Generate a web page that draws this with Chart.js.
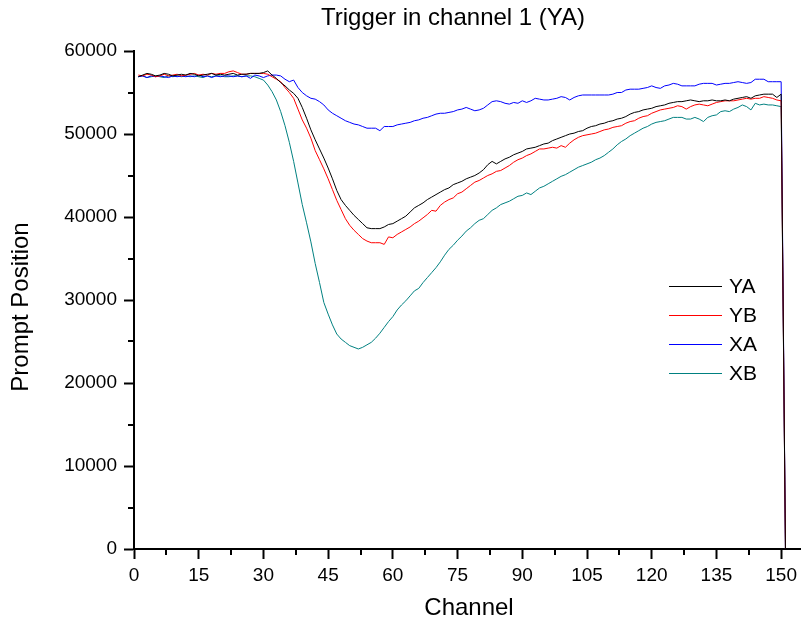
<!DOCTYPE html>
<html>
<head>
<meta charset="utf-8">
<script src="https://cdn.jsdelivr.net/npm/chart.js@4.4.0/dist/chart.umd.min.js"></script>
<style>
  body { margin: 0; background: #fff; }
  #wrap { width: 802px; height: 625px; }
</style>
</head>
<body>
<div id="wrap"><canvas id="chart" width="802" height="625"></canvas></div>
<script>
// --------- DADOS ----------
const channels = [
  1,2,3,4,5,6,7,8,9,10,11,12,13,14,15,16,17,18,19,20,
  21,22,23,24,25,26,27,28,29,30,31,32,33,34,35,36,37,38,39,40,
  41,42,43,44,45,46,47,48,49,50,51,52,53,54,55,56,57,58,59,60,
  61,62,63,64,65,66,67,68,69,70,71,72,73,74,75,76,77,78,79,80,
  81,82,83,84,85,86,87,88,89,90,91,92,93,94,95,96,97,98,99,100,
  101,102,103,104,105,106,107,108,109,110,111,112,113,114,115,116,117,118,119,120,
  121,122,123,124,125,126,127,128,129,130,131,132,133,134,135,136,137,138,139,140,
  141,142,143,144,145,146,147,148,149,150,151
];

const ya = [
  56900,57100,57300,57200,57000,57100,57300,57200,57000,57100,
  57200,57100,57300,57200,57000,57100,57200,57300,57100,57200,
  57100,57200,57300,57100,57200,57200,57300,57300,57300,57400,
  57600,57100,56700,56200,55800,55300,54900,54300,53200,51900,
  50500,49300,48200,47100,45900,44600,43200,42100,41400,40800,
  40200,39700,39200,38700,38600,38600,38600,38800,39100,39200,
  39500,39800,40100,40600,41100,41400,41700,42100,42400,42700,
  43000,43300,43500,43900,44100,44300,44600,44800,45000,45300,
  45700,46300,46700,46400,46700,47000,47200,47500,47700,47900,
  48200,48300,48400,48600,48800,48900,49200,49400,49600,49800,
  50000,50100,50300,50400,50700,50900,51000,51200,51300,51500,
  51600,51800,51900,52100,52400,52600,52700,52900,53000,53100,
  53300,53400,53500,53700,53800,53900,53900,54000,54100,54000,
  53900,54000,54000,54100,54000,54000,54100,54000,54200,54300,
  54400,54500,54300,54600,54700,54800,54800,54800,54400,54800,
  0
];

const yb = [
  57100,57000,57200,57100,56900,57000,57200,57000,57100,57200,
  57000,57100,57200,57300,57100,57200,57100,57300,57200,57300,
  57300,57500,57600,57400,57200,57200,57300,57300,57300,57300,
  57200,56900,56600,56300,55600,55000,54300,53000,51700,50700,
  49500,48000,46900,45800,44600,43300,42000,40900,39800,39000,
  38400,37900,37400,37100,36900,36900,36900,36700,37600,37500,
  37900,38200,38500,38800,39200,39500,39900,40300,40800,40700,
  41400,41800,42100,42300,42800,43000,43400,43800,44200,44400,
  44700,45000,45200,45500,45600,45900,46200,46600,46900,47100,
  47400,47600,47900,48200,48200,48300,48400,48300,48600,48400,
  48900,49300,49600,49800,49900,50000,50100,50300,50500,50600,
  50800,50900,51000,51300,51500,51600,51900,52100,52200,52500,
  52700,52900,53000,53100,53200,53400,53300,53000,53300,53500,
  53600,53500,53400,53600,53800,53900,54000,54000,54000,54100,
  54200,54300,54200,54300,54300,54500,54400,54300,54100,54000,
  0
];

const xa = [
  56900,57000,56800,57000,56900,57000,56900,56800,57000,56900,
  57000,56900,57000,56900,57100,56900,57000,56800,57000,56900,
  57000,57000,56900,57000,56900,57000,56700,57100,57000,56800,
  57000,57100,57100,57000,56600,56300,56500,55600,55000,54600,
  54300,54200,53900,53500,52900,52500,52200,51900,51600,51400,
  51200,51100,50900,50700,50700,50700,50400,50900,50900,50900,
  51100,51200,51300,51400,51600,51700,51900,52000,52200,52400,
  52500,52500,52600,52700,52900,53000,53200,53000,52800,52900,
  53100,53500,53900,54000,53900,53700,53600,53800,53700,54000,
  53800,54000,54300,54200,54100,54100,54200,54300,54500,54400,
  54100,54400,54600,54700,54700,54700,54700,54700,54700,54700,
  54800,55000,55000,55300,55400,55400,55400,55500,55600,55800,
  55600,55500,55800,55900,56100,56000,55800,55800,55800,55800,
  56000,56100,56100,56100,55900,56000,56100,56100,56200,56300,
  56200,56100,56200,56600,56600,56600,56300,56300,56300,56300,
  0
];

const xb = [
  56900,57000,56800,56900,57000,56900,56800,57000,56900,57000,
  56900,57000,56900,57000,56900,56800,57000,56900,57000,57000,
  56900,56900,57000,57000,56900,57000,57000,56900,56700,56500,
  55900,55100,54100,52700,51000,49000,46700,44100,41500,39300,
  37000,34400,32100,29700,28300,27000,25900,25300,24900,24500,
  24300,24100,24300,24600,24900,25400,26000,26700,27400,28000,
  28800,29400,29900,30500,31100,31400,32100,32700,33300,33900,
  34600,35400,36100,36600,37200,37700,38300,38700,39200,39600,
  39800,40300,40800,41100,41500,41700,41900,42200,42500,42600,
  42900,42700,43100,43500,43700,44000,44300,44600,44900,45100,
  45400,45700,46000,46200,46400,46600,46900,47100,47400,47800,
  48200,48700,49100,49400,49800,50100,50400,50700,50900,51200,
  51400,51500,51600,51800,52000,52000,52000,51800,51800,52000,
  51800,51500,52000,52200,52300,52700,52800,52700,53000,53200,
  53500,53300,52900,53700,53500,53600,53500,53500,53400,53300,
  0
];

const seriesNames = ['YA', 'YB', 'XA', 'XB'];
const seriesColors = ['#000000', '#ff0000', '#0000ff', '#008080'];
const xTicks = [0, 15, 30, 45, 60, 75, 90, 105, 120, 135, 150];
const yTicks = [0, 10000, 20000, 30000, 40000, 50000, 60000];
const xMinorTicks = [7.5, 22.5, 37.5, 52.5, 67.5, 82.5, 97.5, 112.5, 127.5, 142.5];
const yMinorTicks = [5000, 15000, 25000, 35000, 45000, 55000];

const FONT = "'Liberation Sans', Arial, sans-serif";

function toPoints(values){
    return values.map((v, i) => ({x: channels[i], y: v}));
}

const datasets = [ya, yb, xa, xb].map((vals, i) => ({
    label: seriesNames[i],
    data: toPoints(vals),
    borderColor: seriesColors[i],
    backgroundColor: seriesColors[i],
    borderWidth: 1,
    pointRadius: 0,
    tension: 0,
    fill: false
}));

// --------- PLUGIN: textos, legenda e ticks menores ----------
const decorPlugin = {
    id: 'decor',
    afterDraw(chart){
        const c = chart.ctx;
        const area = chart.chartArea;
        const sx = chart.scales.x;
        const sy = chart.scales.y;

        c.save();
        // ticks menores
        c.strokeStyle = '#000';
        c.lineWidth = 2;
        c.beginPath();
        xMinorTicks.forEach(v => {
            const px = Math.round(sx.getPixelForValue(v));
            c.moveTo(px, area.bottom);
            c.lineTo(px, area.bottom + 6);
        });
        yMinorTicks.forEach(v => {
            const py = Math.round(sy.getPixelForValue(v));
            c.moveTo(area.left - 6, py);
            c.lineTo(area.left, py);
        });
        c.stroke();

        // título
        c.fillStyle = '#000';
        c.font = '24px ' + FONT;
        c.textAlign = 'center';
        c.textBaseline = 'middle';
        c.fillText('Trigger in channel 1 (YA)', 453, 18);

        // títulos dos eixos
        c.fillText('Channel', 469, 608);
        c.save();
        c.translate(21, 307);
        c.rotate(-Math.PI / 2);
        c.fillText('Prompt Position', 0, 0);
        c.restore();

        // legenda
        c.font = '21px ' + FONT;
        c.textAlign = 'left';
        chart.data.datasets.forEach((ds, i) => {
            const y = 286 + i * 29;
            c.strokeStyle = ds.borderColor;
            c.lineWidth = 1;
            c.beginPath();
            c.moveTo(669, y + 0.5);
            c.lineTo(722, y + 0.5);
            c.stroke();
            c.fillStyle = '#000';
            c.fillText(ds.label, 729, y + 1);
        });
        c.restore();
    }
};

const ctx = document.getElementById('chart').getContext('2d');
const chart = new Chart(ctx, {
    type: 'line',
    data: { datasets },
    options: {
        responsive: false,
        animation: false,
        layout: { padding: { top: 51, right: 0, left: 0, bottom: 0 } },
        plugins: {
            legend: { display: false },
            title: { display: false },
            tooltip: { enabled: false }
        },
        scales: {
            x: {
                type: 'linear',
                min: 0,
                max: 154.4,
                border: { color: '#000', width: 2 },
                grid: { drawOnChartArea: false, drawTicks: true, tickLength: 10, tickColor: '#000', tickWidth: 2 },
                ticks: { color: '#000', font: { family: FONT, size: 19 }, padding: 5, maxRotation: 0, autoSkip: false,
                         callback: v => String(v) },
                afterBuildTicks: s => { s.ticks = xTicks.map(v => ({value: v})); },
                afterFit: s => { s.height = 76; }
            },
            y: {
                min: 0,
                max: 60000,
                border: { color: '#000', width: 2 },
                grid: { drawOnChartArea: false, drawTicks: true, tickLength: 10, tickColor: '#000', tickWidth: 2 },
                ticks: { color: '#000', font: { family: FONT, size: 19 }, padding: 7,
                         callback: v => String(v) },
                afterBuildTicks: s => { s.ticks = yTicks.map(v => ({value: v})); },
                afterFit: s => { s.width = 134; }
            }
        }
    },
    plugins: [decorPlugin]
});
</script>
</body>
</html>
